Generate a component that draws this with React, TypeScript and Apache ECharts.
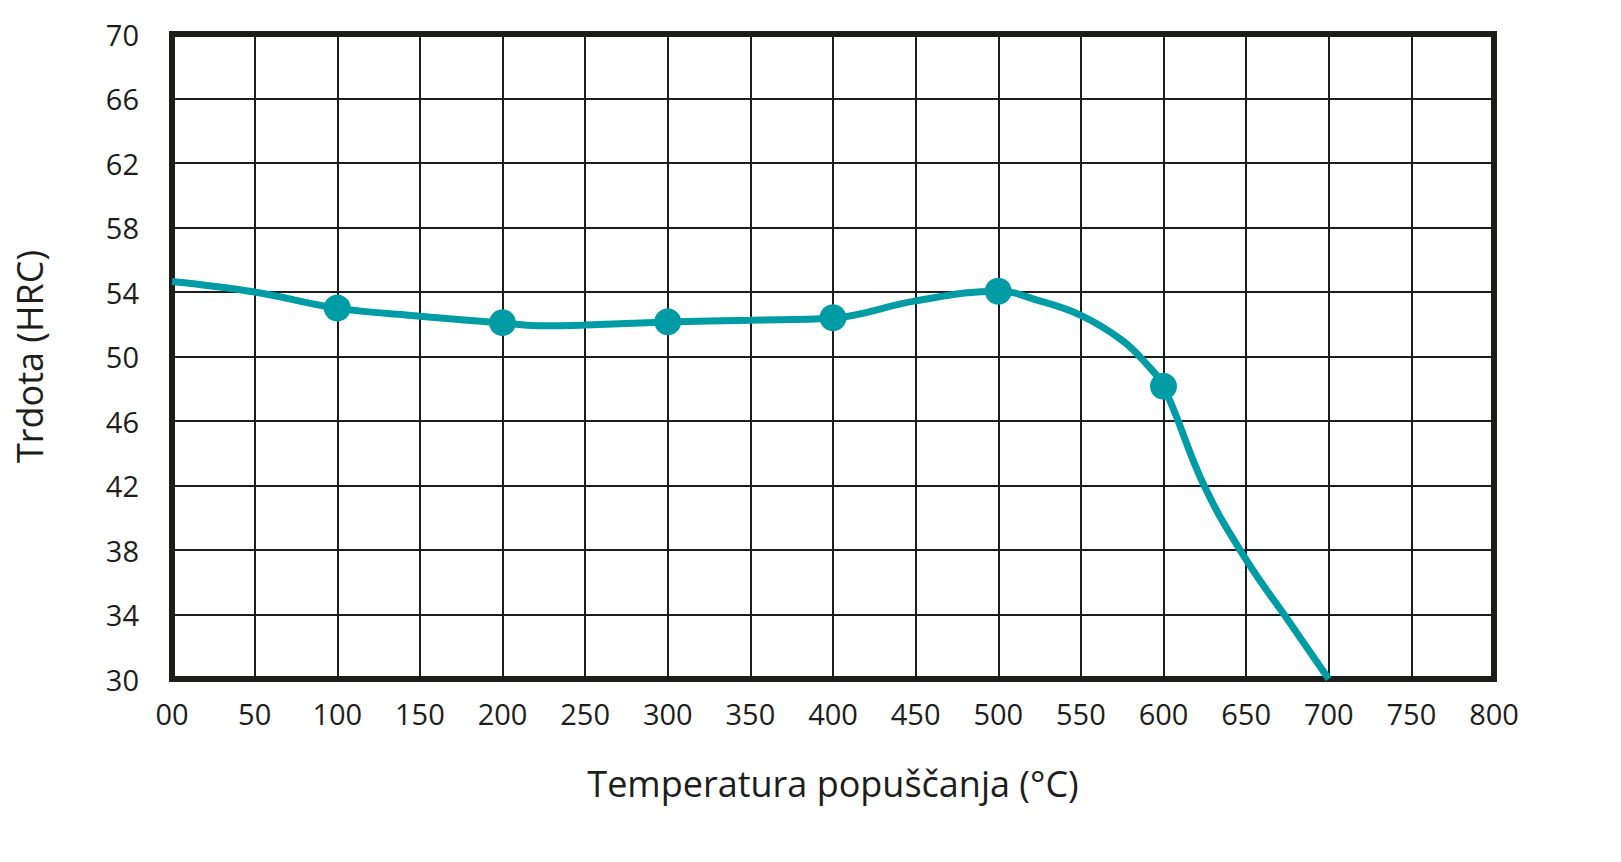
import React, { useEffect, useRef } from "react";
import * as echarts from "echarts";

// Curve (smooth hardness line)
const curveTemps = [0, 50, 100, 150, 200, 225, 250, 300, 350, 400, 450, 500, 525, 550, 575, 590, 600, 625, 650, 675, 700];
const curveHardness = [54.65, 54.0, 53.0, 52.5, 52.08, 51.9, 51.95, 52.14, 52.25, 52.39, 53.45, 54.05, 53.45, 52.55, 51.0, 49.5, 48.15, 41.9, 37.4, 33.7, 30.0];

// Measured points (markers)
const markerTemps = [100, 200, 300, 400, 500, 600];
const markerHardness = [53.0, 52.1, 52.15, 52.4, 54.05, 48.15];

const xTitle = "Temperatura popuščanja (°C)";
const yTitle = "Trdota (HRC)";

const TEAL = "#009ca6";
const INK = "#1d1d1b";
const FONT = "'Open Sans', sans-serif";

export default function App() {
  const ref = useRef<HTMLDivElement>(null);

  useEffect(() => {
    document.body.style.margin = "0";
    if (!ref.current) return;
    const chart = echarts.init(ref.current, null, { renderer: "svg" });
    chart.setOption({
      animation: false,
      backgroundColor: "#ffffff",
      textStyle: { fontFamily: FONT, color: INK },
      grid: {
        left: 172,
        right: 127,
        top: 34,
        bottom: 183,
        show: true,
        borderColor: INK,
        borderWidth: 6,
        backgroundColor: "transparent",
      },
      xAxis: {
        type: "value",
        min: 0,
        max: 800,
        interval: 50,
        name: xTitle,
        nameLocation: "middle",
        nameGap: 86,
        nameTextStyle: { fontSize: 36, color: INK, fontFamily: FONT },
        axisLine: { show: false },
        axisTick: { show: false },
        splitLine: { show: true, lineStyle: { color: INK, width: 2 } },
        axisLabel: {
          fontSize: 29,
          color: INK,
          margin: 20,
          fontFamily: FONT,
          formatter: (v: number) => (v === 0 ? "00" : String(v)),
        },
      },
      yAxis: {
        type: "value",
        min: 30,
        max: 70,
        interval: 4,
        name: yTitle,
        nameLocation: "middle",
        nameGap: 125,
        nameRotate: 90,
        nameTextStyle: { fontSize: 36, color: INK, fontFamily: FONT },
        axisLine: { show: false },
        axisTick: { show: false },
        splitLine: { show: true, lineStyle: { color: INK, width: 2 } },
        axisLabel: { fontSize: 29, color: INK, margin: 33, fontFamily: FONT },
      },
      series: [
        {
          type: "line",
          data: curveTemps.map((t, i) => [t, curveHardness[i]]),
          smooth: 0.4,
          symbol: "none",
          lineStyle: { color: TEAL, width: 7 },
          z: 3,
        },
        {
          type: "scatter",
          data: markerTemps.map((t, i) => [t, markerHardness[i]]),
          symbol: "circle",
          symbolSize: 27,
          itemStyle: { color: TEAL, opacity: 1 },
          z: 4,
        },
      ],
    });
    return () => chart.dispose();
  }, []);

  return <div ref={ref} style={{ width: 1621, height: 862 }} />;
}
